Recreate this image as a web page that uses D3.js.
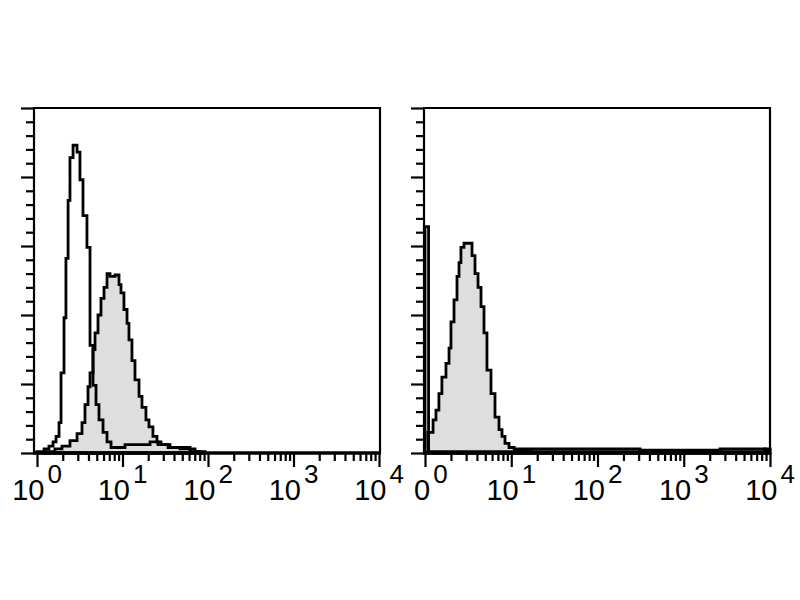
<!DOCTYPE html>
<html><head><meta charset="utf-8">
<script src="https://cdn.jsdelivr.net/npm/d3@7"></script>
<style>html,body{margin:0;padding:0;background:#fff}svg{display:block}</style>
</head><body>
<script>
// ---- data (fluorescence channel value = bin start, event count) ----
const leftOpenX  = [1.00,1.21,1.38,1.54,1.67,1.81,1.91,2.07,2.18,2.31,2.43,2.64,2.94,3.18,3.45,3.84,4.17,4.52,4.90,5.31,5.92,6.59,7.34,10.7,14.0,21.0,26.0,35.9,61.6,80.6];
const leftOpenN  = [1,3,5,8,12,22,58,98,141,183,214,223,218,198,172,149,78,49,35,24,15,8,4,6,6,8,6,4,1,0];
const leftFillX  = [1.24,1.62,1.96,2.43,2.94,3.36,3.64,3.95,4.17,4.52,4.77,5.17,5.60,6.08,6.59,7.14,8.17,9.10,9.60,10.4,11.3,11.9,12.9,14.0,15.6,16.9,18.8,20.4,22.7,25.3,28.2,34.1,47.0,70.5,92.2];
const leftFillN  = [1,3,5,9,14,22,35,48,58,75,87,100,112,120,130,128,129,122,116,104,94,82,67,53,41,33,24,19,12,8,6,4,3,1,0];
const rightOpenX = [1.00,1.10,11.0,16.5,107,1540,8750,10000];
const rightOpenN = [164,1,2,1,1,1,3,0];
const rightFillX = [1.08,1.24,1.34,1.45,1.57,1.75,1.90,2.00,2.17,2.35,2.48,2.61,2.83,3.51,3.80,4.12,4.46,4.83,5.23,5.82,6.48,7.21,7.81,8.46,9.42,10.8,36.7,311,2633,8750,10000];
const rightFillN = [15,24,31,43,55,65,76,95,111,128,138,149,152,143,130,120,106,87,60,43,26,17,12,7,4,3,3,2,3,2,0];
const tickLabelValues = [1,10,100,1000,10000];
const tickLabelExps   = ["0","1","2","3","4"];

// ---- layout ----
const W = 800, H = 600, yTop = 108, yBot = 453;
const panels = [
  {frameL:34,  frameR:380, rangeL:37,  rangeR:379, fx:leftFillX,  fn:leftFillN,  ox:leftOpenX,  on:leftOpenN,  firstBase:"10", firstStart:null},
  {frameL:424, frameR:770, rangeL:425, rangeR:770, fx:rightFillX, fn:rightFillN, ox:rightOpenX, on:rightOpenN, firstBase:"0",  firstStart:414}
];

const svg = d3.select("body").append("svg").attr("width", W).attr("height", H);
const y = d3.scaleLinear().domain([0, 250]).range([yBot, yTop]);

panels.forEach(p => {
  const g = svg.append("g");
  const x = d3.scaleLog().domain([1, 10000]).range([p.rangeL, p.rangeR]);
  const area = d3.area().curve(d3.curveStepAfter)
      .x(d => x(d[0])).y0(y(0)).y1(d => y(d[1]));

  // filled histogram
  g.append("path").datum(d3.zip(p.fx, p.fn)).attr("d", area)
    .attr("fill", "#dedede").attr("stroke", "#000").attr("stroke-width", 2.8)
    .attr("stroke-linejoin", "miter");
  // open histogram
  g.append("path").datum(d3.zip(p.ox, p.on)).attr("d", area)
    .attr("fill", "none").attr("stroke", "#000").attr("stroke-width", 2.8)
    .attr("stroke-linejoin", "miter");

  // y axis ticks (left, outside)
  const ya = g.append("g").attr("transform", `translate(${p.frameL},0)`)
    .call(d3.axisLeft(y).tickValues(d3.range(0, 251, 10)).tickSize(8).tickFormat(""));
  ya.select(".domain").remove();
  ya.selectAll(".tick line").attr("stroke", "#000").attr("stroke-width", 2.2)
    .attr("x2", d => d % 50 === 0 ? -13 : -8);

  // x axis ticks (bottom)
  const xa = g.append("g").attr("transform", `translate(0,${yBot})`)
    .call(d3.axisBottom(x).tickValues(x.ticks()).tickSize(8).tickFormat(""));
  xa.select(".domain").remove();
  xa.selectAll(".tick line").attr("stroke", "#000").attr("stroke-width", 2.2)
    .attr("y2", d => tickLabelValues.includes(d) ? 14 : 8);

  // frame
  g.append("path")
    .attr("d", `M${p.frameL},${yBot}V${yTop}H${p.frameR}V${yBot}`)
    .attr("fill", "none").attr("stroke", "#000").attr("stroke-width", 2.2);
  g.append("line").attr("x1", p.frameL - 1).attr("x2", p.frameR + 1)
    .attr("y1", yBot).attr("y2", yBot).attr("stroke", "#000").attr("stroke-width", 3.5);

  // tick labels
  tickLabelValues.forEach((v, i) => {
    const custom = i === 0 && p.firstStart !== null;
    const t = g.append("text").attr("x", custom ? p.firstStart : x(v)).attr("y", 500)
      .attr("text-anchor", custom ? "start" : "middle")
      .style("font-family", "'Liberation Sans', Arial, sans-serif")
      .style("font-size", "29px").attr("fill", "#000");
    t.append("tspan").text(i === 0 ? p.firstBase : "10");
    t.append("tspan").attr("dx", 3).attr("dy", -17)
      .style("font-size", "26px").text(tickLabelExps[i]);
  });
});
</script>
</body></html>
